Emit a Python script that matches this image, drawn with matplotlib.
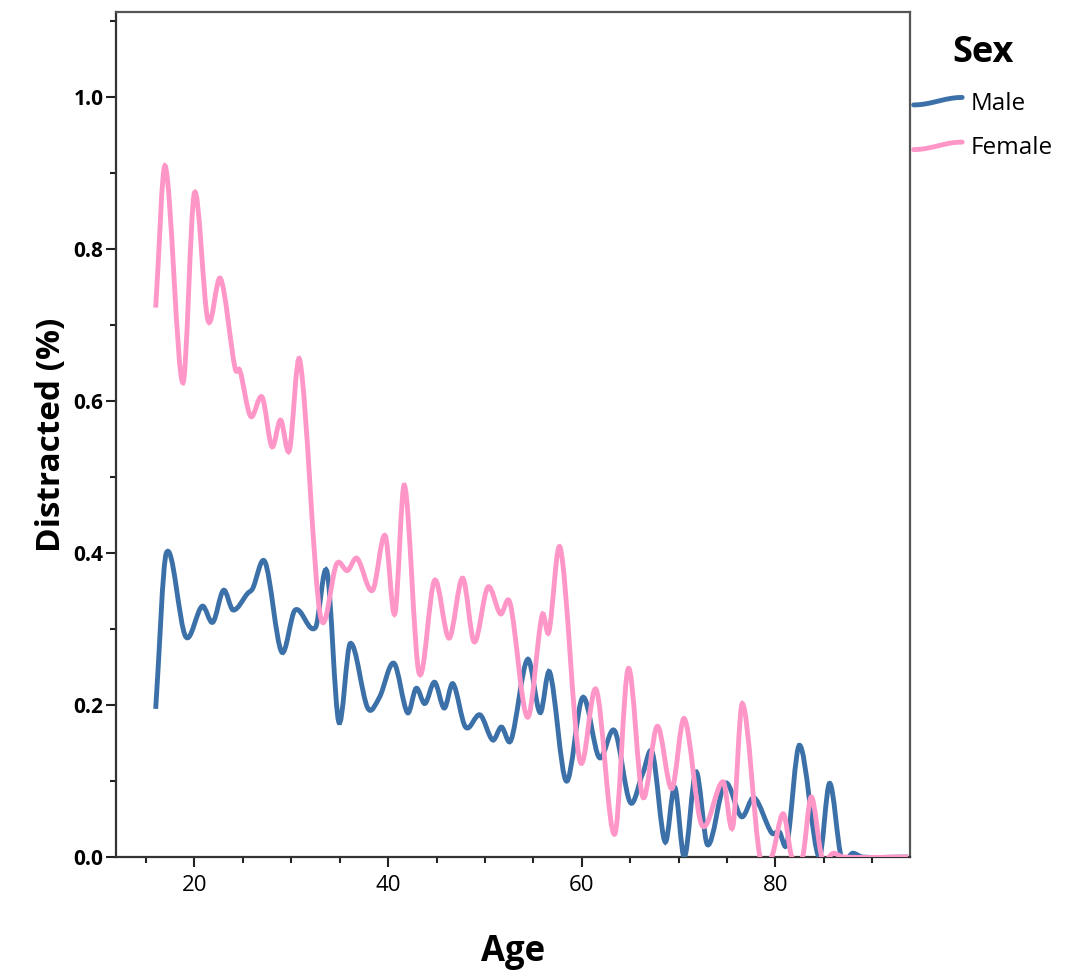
import numpy as np
import matplotlib
matplotlib.use("Agg")
import matplotlib.pyplot as plt
from matplotlib.path import Path
from matplotlib.patches import PathPatch
from matplotlib.lines import Line2D
from matplotlib.legend_handler import HandlerLine2D
from matplotlib.ticker import MultipleLocator

plt.rcParams['font.family'] = ['Open Sans', 'DejaVu Sans']

# values (age, share distracted)
female_age = [16.0, 17.0, 18.8, 20.0, 21.4, 22.7, 24.2, 24.7, 25.8, 27.0, 28.0, 28.9, 29.8, 30.9,
              33.0, 34.7, 35.8, 36.8, 38.4, 39.7, 40.7, 41.7, 43.2, 44.8, 46.3, 47.7, 48.9, 50.3,
              51.6, 52.6, 54.4, 55.9, 56.6, 57.8, 59.8, 61.5, 63.4, 64.8, 66.3, 67.8, 69.3, 70.6,
              72.4, 74.6, 75.6, 76.6, 78.4, 79.6, 80.8, 81.7, 82.8, 83.7, 84.8, 86.0, 87.0, 93.7]
female_val = [0.723, 0.909, 0.624, 0.874, 0.706, 0.761, 0.643, 0.640, 0.580, 0.605, 0.540, 0.575, 0.535, 0.653,
              0.318, 0.386, 0.377, 0.393, 0.351, 0.423, 0.320, 0.489, 0.242, 0.364, 0.288, 0.367, 0.283, 0.355,
              0.320, 0.334, 0.184, 0.318, 0.296, 0.406, 0.127, 0.220, 0.030, 0.248, 0.079, 0.172, 0.090, 0.182,
              0.042, 0.099, 0.040, 0.202, 0.0, 0.0, 0.057, 0.0, 0.0, 0.079, 0.0, 0.005, 0.0, 0.0]

male_age = [16.0, 17.1, 19.1, 20.8, 21.9, 23.0, 24.0, 25.5, 26.0, 27.3, 29.0, 30.4, 32.5, 33.7,
            34.9, 36.1, 37.9, 39.1, 40.6, 42.0, 42.9, 43.8, 44.8, 45.8, 46.7, 48.0, 49.5, 50.8,
            51.7, 52.7, 54.4, 55.7, 56.7, 58.4, 60.1, 61.8, 63.4, 65.0, 66.3, 67.3, 68.6, 69.6,
            70.6, 71.8, 73.0, 74.8, 76.5, 77.8, 79.6, 80.4, 81.2, 82.5, 84.5, 85.6, 86.8, 88.0,
            89.0, 93.7]
male_val = [0.195, 0.400, 0.290, 0.330, 0.309, 0.351, 0.325, 0.347, 0.353, 0.388, 0.270, 0.325, 0.302, 0.375,
            0.178, 0.281, 0.196, 0.210, 0.255, 0.190, 0.222, 0.202, 0.230, 0.196, 0.228, 0.171, 0.187, 0.154,
            0.171, 0.154, 0.260, 0.190, 0.243, 0.100, 0.210, 0.131, 0.166, 0.072, 0.110, 0.137, 0.020, 0.092,
            0.0, 0.112, 0.016, 0.097, 0.053, 0.078, 0.032, 0.033, 0.018, 0.147, 0.0, 0.097, 0.0, 0.005,
            0.0, 0.0]

blue = "#3c70a8"
pink = "#ff96c8"


def smooth_path(xs, ys):
    # cubic hermite pieces drawn as bezier curves through the read points
    x = np.asarray(xs, float)
    y = np.asarray(ys, float)
    n = len(x)
    m = np.zeros(n)
    m[0] = (y[1] - y[0]) / (x[1] - x[0])
    m[-1] = (y[-1] - y[-2]) / (x[-1] - x[-2])
    for i in range(1, n - 1):
        m[i] = (y[i + 1] - y[i - 1]) / (x[i + 1] - x[i - 1])
    verts = [(x[0], y[0])]
    codes = [Path.MOVETO]
    for i in range(n - 1):
        h = x[i + 1] - x[i]
        verts += [(x[i] + h / 3, y[i] + m[i] * h / 3),
                  (x[i + 1] - h / 3, y[i + 1] - m[i + 1] * h / 3),
                  (x[i + 1], y[i + 1])]
        codes += [Path.CURVE4] * 3
    return Path(verts, codes)


class WavyHandler(HandlerLine2D):
    # little s-shaped legend glyph like the original
    def create_artists(self, legend, orig_handle, xdescent, ydescent, width, height, fontsize, trans):
        t = np.linspace(0, 1, 30)
        xs = -xdescent + t * width
        ys = -ydescent + height / 2 + 0.22 * height * np.sin(np.pi * (t - 0.5))
        ln = Line2D(xs, ys, color=orig_handle.get_color(), lw=orig_handle.get_linewidth(),
                    solid_capstyle='round')
        ln.set_transform(trans)
        return [ln]


fig = plt.figure(figsize=(10.71, 9.73), dpi=100)
ax = fig.add_axes([0.1083, 0.1192, 0.7414, 0.8685])

ax.add_patch(PathPatch(smooth_path(male_age, male_val), fill=False, edgecolor=blue, lw=3.5,
                       capstyle='butt', zorder=3))
ax.add_patch(PathPatch(smooth_path(female_age, female_val), fill=False, edgecolor=pink, lw=3.5,
                       capstyle='butt', zorder=4))

ax.set_xlim(11.9, 93.9)
ax.set_ylim(0, 1.112)

ax.xaxis.set_major_locator(MultipleLocator(20))
ax.xaxis.set_minor_locator(MultipleLocator(5))
ax.yaxis.set_major_locator(MultipleLocator(0.2))
ax.yaxis.set_minor_locator(MultipleLocator(0.1))
ax.yaxis.set_major_formatter(matplotlib.ticker.FormatStrFormatter('%.1f'))

ax.tick_params(which='major', length=7, width=1.5, color='#222222')
ax.tick_params(which='minor', length=4.5, width=1.5, color='#222222')
ax.tick_params(axis='x', labelsize=16, pad=6)
ax.tick_params(axis='y', labelsize=15, pad=2)
for lab in ax.get_yticklabels():
    lab.set_fontweight('bold')

for side, sp in ax.spines.items():
    sp.set_linewidth(1.6)
    sp.set_color('#333333' if side in ('left', 'bottom') else '#555555')

ax.set_xlabel("Age", fontsize=25, fontweight='bold', labelpad=27)
ax.set_ylabel("Distracted (%)", fontsize=24, fontweight='bold', labelpad=4)

handles = [Line2D([], [], color=blue, lw=3.5), Line2D([], [], color=pink, lw=3.5)]
leg = fig.legend(handles, ["Male", "Female"], title="Sex", loc='upper left',
                 bbox_to_anchor=(0.853, 0.964), frameon=False, fontsize=17.5,
                 borderpad=0, borderaxespad=0,
                 handlelength=2.0, handletextpad=0.34, labelspacing=0.85,
                 handler_map={Line2D: WavyHandler()})
leg.get_title().set_fontsize(26)
leg.get_title().set_fontweight('bold')

fig.savefig("out.png", dpi=100)
